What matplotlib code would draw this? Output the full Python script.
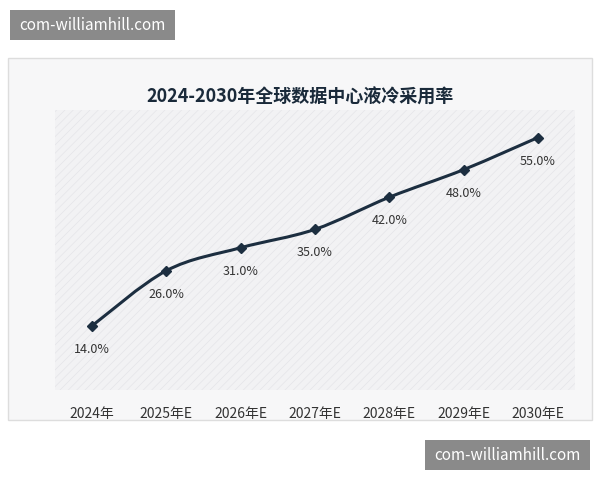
import matplotlib
matplotlib.use("Agg")
import matplotlib.pyplot as plt
from matplotlib.path import Path
from matplotlib.patches import PathPatch, Rectangle
import numpy as np

plt.rcParams['font.family'] = ['Noto Sans CJK SC', 'DejaVu Sans']
plt.rcParams['hatch.linewidth'] = 0.4

years = ["2024年", "2025年E", "2026年E", "2027年E", "2028年E", "2029年E", "2030年E"]
rates = [14.0, 26.0, 31.0, 35.0, 42.0, 48.0, 55.0]
title = "2024-2030年全球数据中心液冷采用率"
watermark = "com-williamhill.com"

W, H = 600, 480
fig = plt.figure(figsize=(6, 4.8), dpi=100)
fig.patch.set_facecolor("white")

fig.patches.append(Rectangle((8/W, 1-420/H), 584/W, 362/H, transform=fig.transFigure,
                             facecolor="#f7f7f8", edgecolor="#dddddd", lw=1, zorder=-5))

ax = fig.add_axes([55/W, 1-390/H, 520/W, 280/H])
ax.set_zorder(2)
ax.set_facecolor("#f2f2f4")
ax.add_patch(Rectangle((0, 0), 1, 1, transform=ax.transAxes, facecolor="none",
                       edgecolor="#e2e2e6", hatch="////", lw=0, zorder=0))
for s in ax.spines.values():
    s.set_visible(False)
ax.set_xlim(-0.5, 6.5)
ax.set_ylim(0, 61)
ax.set_yticks([])
ax.set_xticks(range(len(years)))
ax.set_xticklabels(years, fontsize=10, color="#333333")
ax.tick_params(axis="x", length=0, pad=12)

x = np.arange(len(rates), dtype=float)
y = np.array(rates)
verts = [(x[0], y[0])]
codes = [Path.MOVETO]
for i in range(len(x) - 1):
    p0 = np.array([x[max(i-1, 0)], y[max(i-1, 0)]])
    p1 = np.array([x[i], y[i]])
    p2 = np.array([x[i+1], y[i+1]])
    p3 = np.array([x[min(i+2, len(x)-1)], y[min(i+2, len(x)-1)]])
    c1 = p1 + (p2 - p0) / 6
    c2 = p2 - (p3 - p1) / 6
    verts += [tuple(c1), tuple(c2), tuple(p2)]
    codes += [Path.CURVE4] * 3
ax.add_patch(PathPatch(Path(verts, codes), fill=False, edgecolor="#1c2e40", lw=2.2, zorder=3))
ax.plot(x, y, linestyle="none", marker="D", markersize=5, color="#1c2e40", zorder=4)
for xi, yi in zip(x, y):
    ax.annotate(f"{yi:.1f}%", (xi, yi), xytext=(0, -17), textcoords="offset points",
                ha="center", va="center", fontsize=9, color="#333333")

fig.text(0.5, 1-97/H, title, ha="center", va="center", fontsize=13, fontweight="bold",
         color="#1a2a3a")

for (x0, y0) in [(10, 10), (425, 440)]:
    fig.patches.append(Rectangle((x0/W, 1-(y0+30)/H), 165/W, 30/H, transform=fig.transFigure,
                                 facecolor="#8a8a8a", edgecolor="none", zorder=10))
    fig.text((x0+82)/W, 1-(y0+15)/H, watermark, ha="center", va="center",
             fontsize=11, color="white", zorder=11)

fig.savefig("out.png", dpi=100)
